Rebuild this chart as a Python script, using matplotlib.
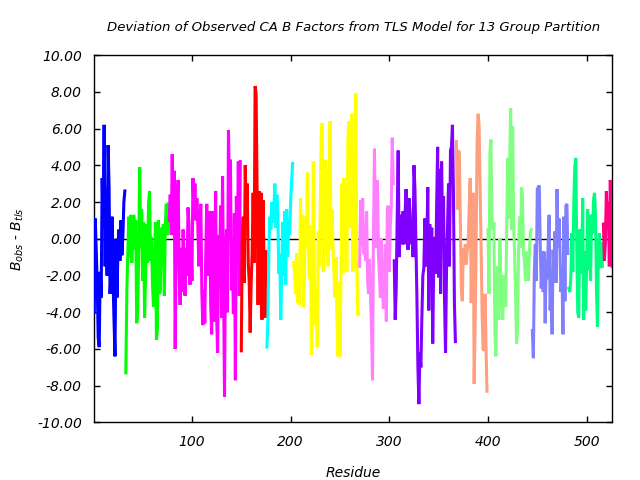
import numpy as np
import matplotlib
matplotlib.use('Agg')
import matplotlib.pyplot as plt

# TLS group partition: colour and per-residue deviation (B_obs - B_tls), residues 1..526 in order
group_colors = ['#0000ff', '#00ff00', '#ff00ff', '#ff0000', '#00ffff', '#ffff00', '#ff80ff',
                '#8000ff', '#ff9f80', '#80ff80', '#8080ff', '#00ff80', '#ff0080']

blue = [-4.0, 1.1, -0.6, -2.5, -5.4, -5.9, -1.8, -3.2, 3.3, 1.0, 6.2, -1.5, 2.8, -2.0, 5.1, 2.8,
        -3.0, -1.8, 1.2, -2.2, -4.4, -6.4, 0.0, -3.2, -0.6, 0.5, -1.2, 1.0, -0.9, 0.2, 2.0, 2.6]
green = [-7.3, -2.9, -0.8, 1.2, -1.0, 1.3, -1.3, 0.2, 1.3, -0.6, 1.0, -4.6, -3.9, -1.0, 3.9, -0.5,
         1.6, -2.3, 0.9, -4.3, -2.0, 0.8, -1.3, 1.9, 2.6, -1.2, 0.1, -2.5, -3.7, -1.7, 0.9, -5.5,
         -4.9, 1.0, -3.0, -2.8, 0.6, -1.4, 0.8, -3.1, 0.8, 1.9, 0.2, 1.9]
magenta = [1.0, 2.4, 0.2, 4.6, 0.3, 3.7, -6.0, -0.5, 2.0, 3.2, -1.6, -3.6, -0.5, -2.9, 0.5, -1.0,
           -3.1, -0.5, -2.0, 1.7, 0.8, -2.5, -0.3, -2.3, 3.3, 1.5, 3.0, 1.0, 2.2, 0.6, -1.5, 1.2,
           1.9, -2.9, -4.7, -2.8, -4.6, -0.8, 1.9, -2.0, -1.6, 1.5, -3.6, -5.2, 1.5, -4.5, -2.3, 2.6,
           -4.2, -6.2, 0.2, -2.0, 1.8, -4.3, 3.4, -2.3, -8.6, -0.9, 0.5, -4.0, 5.9, 2.4, 4.3, -2.8,
           -1.0, -4.1, 1.4, -7.7, 2.3, -0.8, 4.2, -3.1, 4.2]
red = [-6.1, 0.3, 1.2, -2.4, 4.0, 1.1, 3.0, -1.3, -2.3, -5.1, -2.4, -0.8, 2.5, -1.3, 8.3, 7.9,
       2.7, -3.6, 2.6, -2.0, 2.5, -4.4, 2.1, -1.2, -4.3, -0.7]
cyan = [-5.9, -4.4, -0.5, 1.2, 0.5, 2.0, 0.9, 1.5, 3.0, 0.6, 2.4, 1.5, -1.9, -0.8, -4.4, -1.8,
        0.9, -2.0, 1.5, -2.5, 1.6, -1.0, 0.8, 0.2, 2.0, 3.1, 4.1]
yellow = [-1.3, -1.9, -3.0, -0.8, -3.5, -1.8, -3.6, 2.2, -0.3, 1.3, -3.7, -2.0, 1.2, -0.5, 3.6, 0.0,
          -2.2, 0.7, -6.3, -3.8, 4.2, -1.8, -4.7, -2.8, -5.9, 0.4, -1.5, 1.5, 5.6, 6.3, -1.8, 2.6,
          4.3, -0.9, 3.8, -1.5, 2.5, 6.4, -0.6, 1.6, -0.6, -2.0, -3.2, -1.0, -4.5, -6.4, -2.3, -6.4,
          -2.2, 3.0, -1.9, 3.3, 1.2, 2.4, -1.8, 5.4, 6.4, 0.6, 2.3, 6.8, -1.8, 5.0, -1.6, 7.9,
          0.0, -4.2, -4.0]
pink = [-1.5, 2.1, -0.4, 2.2, -0.8, -0.5, -1.2, 1.5, -2.3, -3.0, -1.1, -3.1, -5.0, -7.7, 0.5, 4.9,
        -0.5, 1.3, 3.2, -0.8, -2.1, -3.2, 0.0, -2.5, -3.8, -2.8, -0.3, -4.5, 1.6, 1.8, -1.8, 0.7,
        1.8, 5.5, 3.0]
purple = [-1.2, -4.4, -2.7, 1.1, 4.8, -1.0, 0.5, 1.3, -0.3, 1.5, -0.3, 1.4, 2.7, 0.7, -0.6, 2.2,
          1.5, -0.3, 1.0, -1.0, 4.0, 2.7, -0.3, -3.2, -7.0, -9.0, -6.2, -7.0, -4.3, -2.0, -1.6, 1.1,
          -1.5, -0.6, 2.8, -3.9, 0.8, -2.2, 0.6, -5.7, -1.4, 0.1, -1.9, 1.9, 5.0, -2.1, 3.8, -3.0,
          4.2, 0.5, 2.3, -3.4, -6.2, -1.7, 0.6, 3.0, -1.5, 4.8, 5.0, 6.2, 2.5, -3.5, -5.6]
salmon = [5.3, 1.6, 4.8, 4.7, 1.0, -2.7, -3.4, -0.5, -1.4, -0.3, -1.4, -0.6, -0.2, 1.8, 3.3, -3.5,
          -0.2, 2.5, -7.9, -4.7, -0.2, 5.3, 6.8, 6.2, 2.9, -0.2, -3.9, -6.0, -6.1, -3.0, -5.8, -8.3]
lightgreen = [0.5, -3.0, 4.7, 5.4, 1.1, 0.5, 0.9, -5.0, -6.4, -2.3, -1.5, -4.4, 0.0, -2.1, -3.2, -4.4,
              -2.0, -2.5, -3.7, 0.6, 4.4, 1.1, 4.2, 7.1, 0.5, 6.1, 0.8, -0.8, -3.1, -5.7, -4.9, -0.7,
              1.2, -0.5, 2.8, 2.3, -0.8, -1.2, -2.3, -0.7, -1.3, -2.3, -0.8, 0.4, 0.5]
lavender = [-5.0, -6.5, -1.8, -0.3, -2.3, 2.7, 2.8, 2.9, -0.4, -2.7, -0.7, -2.9, -0.7, -4.6, -1.2, -2.2,
            -0.3, 1.3, -3.9, -2.5, -5.2, -0.6, -1.8, 0.4, -2.4, 2.7, -0.5, 1.1, -0.7, -2.9, -1.9, -5.2,
            1.2, -3.4, 1.8, 1.9, -0.8]
springgreen = [-2.7, -2.9, -2.1, 0.3, -1.8, 2.0, 3.9, 4.4, -0.5, -4.0, -4.3, 0.5, -1.6, -1.9, 2.2, -4.4,
               -0.7, -3.9, -1.7, 1.6, -1.7, 1.3, -2.3, 1.3, 0.3, 2.1, 2.5, 1.2, -2.8, -4.8, -0.5, 0.3,
               -1.6, -0.2, -1.5]
deeppink = [0.8, -1.2, -0.2, 2.6, 0.6, 2.0, -1.5, 3.2, -0.4, -1.5]

groups = [blue, green, magenta, red, cyan, yellow, pink, purple, salmon,
          lightgreen, lavender, springgreen, deeppink]

yticks = np.arange(-10, 10.1, 2)
xticks = [100, 200, 300, 400, 500]

fig = plt.figure(figsize=(6.4, 4.8), dpi=100)
ax = fig.add_axes([0.1473, 0.1198, 0.8094, 0.7656])

start = 1
for vals, col in zip(groups, group_colors):
    res = np.arange(start, start + len(vals))
    ax.plot(res, vals, color=col, linewidth=2.2, solid_joinstyle='miter', zorder=3)
    start += len(vals)

ax.axhline(0, color='black', linewidth=1, zorder=2)

ax.set_xlim(1, 526)
ax.set_ylim(-10, 10)
ax.set_xticks(xticks)
ax.set_yticks(yticks)
ax.set_yticklabels(['%.2f' % v for v in yticks])
ax.tick_params(direction='in', length=4, width=1, top=True, right=True,
               labelsize=10, pad=9)
for lab in ax.get_xticklabels() + ax.get_yticklabels():
    lab.set_fontstyle('italic')
for s in ax.spines.values():
    s.set_linewidth(1)

ax.set_xlabel('Residue', fontstyle='italic', fontsize=10, labelpad=12)
ax.set_ylabel(r'$B_{obs}$ - $B_{tls}$', fontsize=10, labelpad=8)
fig.text(0.552, 0.943, 'Deviation of Observed CA B Factors from TLS Model for 13 Group Partition',
         ha='center', va='center', fontstyle='italic', fontsize=9.5)

fig.savefig('out.png', dpi=100)
